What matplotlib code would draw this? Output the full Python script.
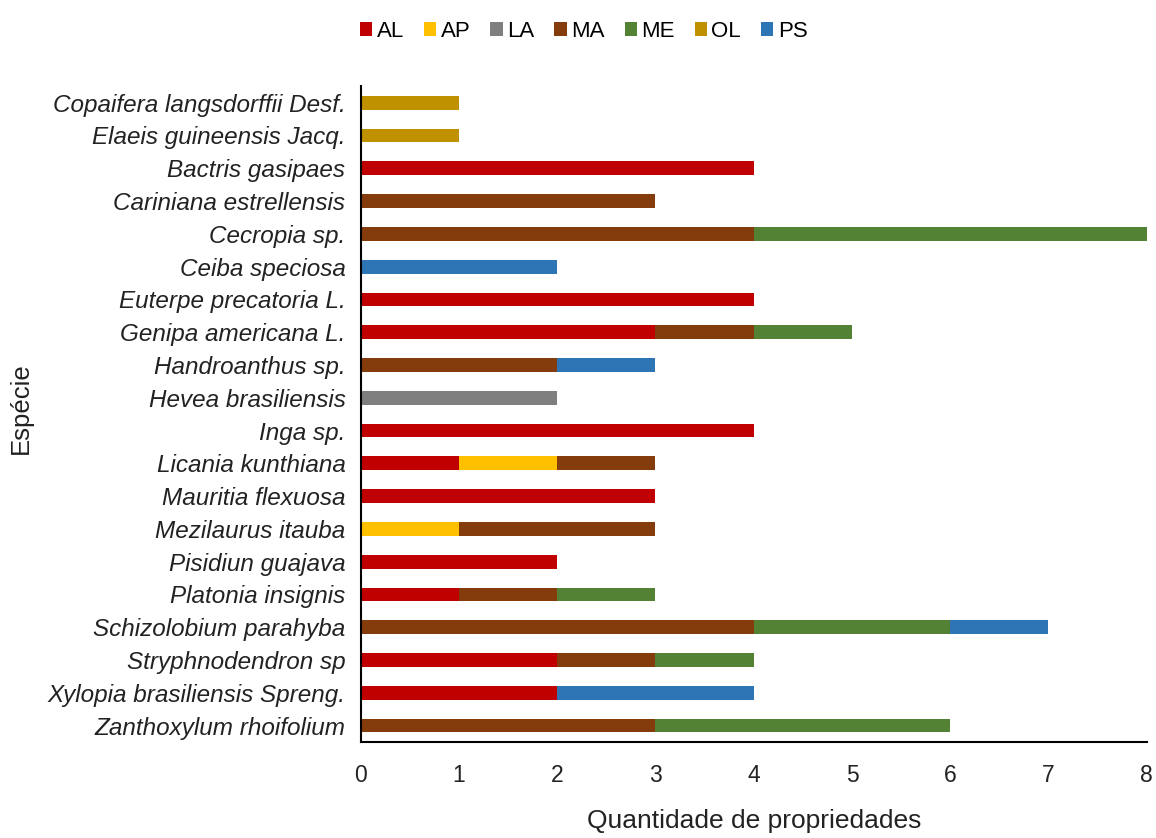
import numpy as np
import matplotlib.pyplot as plt

plt.rcParams['font.family'] = ['Liberation Sans', 'DejaVu Sans']

especies = [
    "Copaifera langsdorffii Desf.", "Elaeis guineensis Jacq.", "Bactris gasipaes",
    "Cariniana estrellensis", "Cecropia sp.", "Ceiba speciosa", "Euterpe precatoria L.",
    "Genipa americana L.", "Handroanthus sp.", "Hevea brasiliensis", "Inga sp.",
    "Licania kunthiana", "Mauritia flexuosa", "Mezilaurus itauba", "Pisidiun guajava",
    "Platonia insignis", "Schizolobium parahyba", "Stryphnodendron sp",
    "Xylopia brasiliensis Spreng.", "Zanthoxylum rhoifolium",
]

AL = [0, 0, 4, 0, 0, 0, 4, 3, 0, 0, 4, 1, 3, 0, 2, 1, 0, 2, 2, 0]
AP = [0, 0, 0, 0, 0, 0, 0, 0, 0, 0, 0, 1, 0, 1, 0, 0, 0, 0, 0, 0]
LA = [0, 0, 0, 0, 0, 0, 0, 0, 0, 2, 0, 0, 0, 0, 0, 0, 0, 0, 0, 0]
MA = [0, 0, 0, 3, 4, 0, 0, 1, 2, 0, 0, 1, 0, 2, 0, 1, 4, 1, 0, 3]
ME = [0, 0, 0, 0, 4, 0, 0, 1, 0, 0, 0, 0, 0, 0, 0, 1, 2, 1, 0, 3]
OL = [1, 1, 0, 0, 0, 0, 0, 0, 0, 0, 0, 0, 0, 0, 0, 0, 0, 0, 0, 0]
PS = [0, 0, 0, 0, 0, 2, 0, 0, 1, 0, 0, 0, 0, 0, 0, 0, 1, 0, 2, 0]

series = [("AL", AL, "#C00000"), ("AP", AP, "#FFC000"), ("LA", LA, "#7F7F7F"),
          ("MA", MA, "#843C0C"), ("ME", ME, "#548235"), ("OL", OL, "#BF9000"),
          ("PS", PS, "#2E75B6")]

fig = plt.figure(figsize=(11.56, 8.38), dpi=100)
ax = fig.add_axes([0.312, 0.1146, 0.68, 0.7824])

y = np.arange(len(especies))
left = np.zeros(len(especies))
for nome, vals, cor in series:
    vals = np.array(vals, dtype=float)
    ax.barh(y, vals, left=left, height=0.42, color=cor, label=nome)
    left += vals

ax.set_ylim(len(especies) - 0.5, -0.5)
ax.set_xlim(0, 8)
ax.set_yticks(y)
ax.set_yticklabels(especies, fontstyle='italic', fontsize=17.5, color='#222222')
ax.set_xticks(range(9))
ax.tick_params(axis='x', labelsize=16.5, length=0, pad=16, labelcolor='#222222')
ax.tick_params(axis='y', length=0, pad=11)
for s in ['top', 'right']:
    ax.spines[s].set_visible(False)
ax.spines['left'].set_linewidth(1.5)
ax.spines['bottom'].set_linewidth(1.5)

ax.set_xlabel("Quantidade de propriedades", fontsize=19, labelpad=16, color='#222222')
fig.text(0.018, 0.513, "Espécie", rotation=90, fontsize=18.5, va='center', ha='center',
         color='#222222')

fig.legend(loc='upper center', bbox_to_anchor=(0.505, 0.999), ncol=7, frameon=False,
           fontsize=16, handlelength=0.55, handleheight=0.55, handletextpad=0.2,
           columnspacing=0.9)

fig.savefig("out.png", dpi=100, facecolor='white')
